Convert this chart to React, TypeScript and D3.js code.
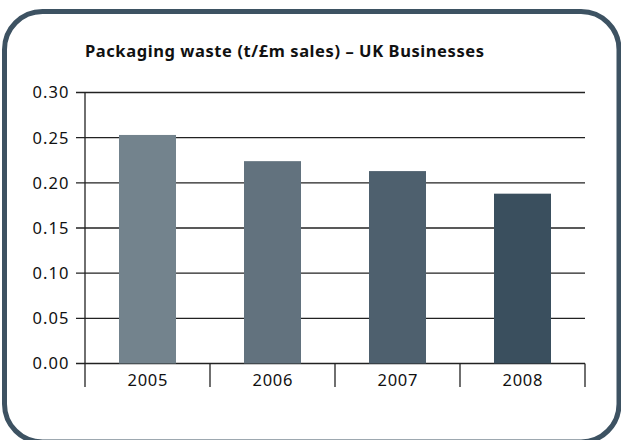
import React from "react";
import * as d3 from "d3";

const categories = ["2005", "2006", "2007", "2008"];
const values = [0.253, 0.224, 0.213, 0.188];
const barColors = ["#73838d", "#62727e", "#4e606e", "#3a4f5e"];
const yTicks = [0, 0.05, 0.1, 0.15, 0.2, 0.25, 0.3];
const title = "Packaging waste (t/£m sales) – UK Businesses";

const W = 621;
const H = 440;
const left = 85;
const right = 585;
const top = 92.5;
const bottom = 363.5;

export default function App() {
  const x = d3.scaleBand<string>().domain(categories).range([left, right]).paddingInner(0.544).paddingOuter(0.272);
  const band = d3.scaleBand<string>().domain(categories).range([left, right]);
  const y = d3.scaleLinear().domain([0, 0.3]).range([bottom, top]);
  const fmt = d3.format(".2f");
  const font = "'Noto Sans', 'Open Sans', sans-serif";
  const lineColor = "#222";
  const bounds = [...categories.map((c) => band(c) as number), right];

  return (
    <svg width={W} height={H} style={{ position: "absolute", left: 0, top: 0 }} fontFamily={font}>
      <rect x={0} y={0} width={W} height={H} fill="#fff" />
      <rect x={4.5} y={11.5} width={614.5} height={430.5} rx={38} ry={38} fill="none" stroke="#3d5262" strokeWidth={5} />
      <text x={85} y={56.5} fontSize={16.5} fontWeight="bold" fill="#111" textLength={399} lengthAdjust="spacing">{title}</text>
      {yTicks.map((t) => (
        <g key={t}>
          <line x1={76} x2={right} y1={y(t)} y2={y(t)} stroke={lineColor} strokeWidth={1.3} />
          <text x={68.5} y={y(t)} dy="0.36em" textAnchor="end" fontSize={16.5} fill="#111" textLength={36} lengthAdjust="spacing">{fmt(t)}</text>
        </g>
      ))}
      {categories.map((c, i) => (
        <rect key={c} x={x(c)} y={y(values[i])} width={x.bandwidth()} height={y(0) - y(values[i])} fill={barColors[i]} />
      ))}
      <line x1={left} x2={left} y1={top} y2={bottom} stroke={lineColor} strokeWidth={1.3} />
      {bounds.map((b, i) => (
        <line key={i} x1={b} x2={b} y1={bottom} y2={387} stroke={lineColor} strokeWidth={1.3} />
      ))}
      {categories.map((c) => (
        <text key={c} x={(band(c) as number) + band.bandwidth() / 2} y={386} textAnchor="middle" fontSize={16.5} fill="#111" textLength={40} lengthAdjust="spacing">{c}</text>
      ))}
    </svg>
  );
}
